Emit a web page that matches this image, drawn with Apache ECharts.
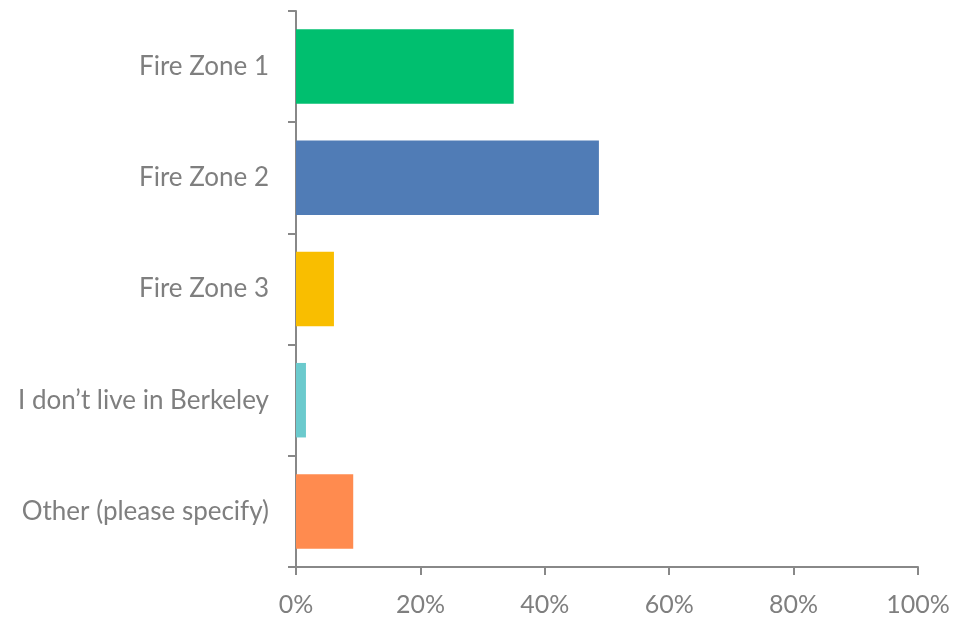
<!DOCTYPE html>
<html>
<head>
<meta charset="utf-8">
<script src="https://cdn.jsdelivr.net/npm/echarts@6/dist/echarts.min.js"></script>
<style>
  html, body { margin: 0; padding: 0; background: #fff; }
  #chart { width: 955px; height: 617px; }
</style>
</head>
<body>
<div id="chart"></div>
<script>
// Survey responses: where respondents live
const categories = ['Fire Zone 1', 'Fire Zone 2', 'Fire Zone 3', 'I don\u2019t live in Berkeley', 'Other (please specify)'];
const shares = [35.0, 48.7, 6.1, 1.6, 9.2];
const barColors = ['#00BF6F', '#507CB6', '#F9BE00', '#6BCACD', '#FF8B4F'];
const xTicks = [0, 20, 40, 60, 80, 100];

const axisGray = '#888888';
const textGray = '#7F7F7F';
const font = 'Lato, "Open Sans", sans-serif';

const chart = echarts.init(document.getElementById('chart'), null, { renderer: 'canvas' });
chart.setOption({
  animation: false,
  grid: { left: 296, right: 37, top: 11, bottom: 50, containLabel: false },
  xAxis: {
    type: 'value',
    min: xTicks[0],
    max: xTicks[xTicks.length - 1],
    interval: xTicks[1] - xTicks[0],
    axisLine: { show: true, lineStyle: { color: axisGray, width: 2 } },
    axisTick: { show: true, length: 8, lineStyle: { color: axisGray, width: 2 } },
    splitLine: { show: false },
    axisLabel: {
      formatter: v => v + '%',
      color: textGray, fontFamily: font, fontSize: 25, margin: 25
    }
  },
  yAxis: {
    type: 'category',
    data: categories,
    inverse: true,
    axisLine: { show: true, lineStyle: { color: axisGray, width: 2 } },
    axisTick: { show: true, length: 8, lineStyle: { color: axisGray, width: 2 } },
    axisLabel: { color: textGray, fontFamily: font, fontSize: 26, margin: 27, padding: [0, 0, 3, 0] }
  },
  series: [{
    type: 'bar',
    data: shares.map((v, i) => ({ value: v, itemStyle: { color: barColors[i] } })),
    barWidth: '67%'
  }]
});
</script>
</body>
</html>
